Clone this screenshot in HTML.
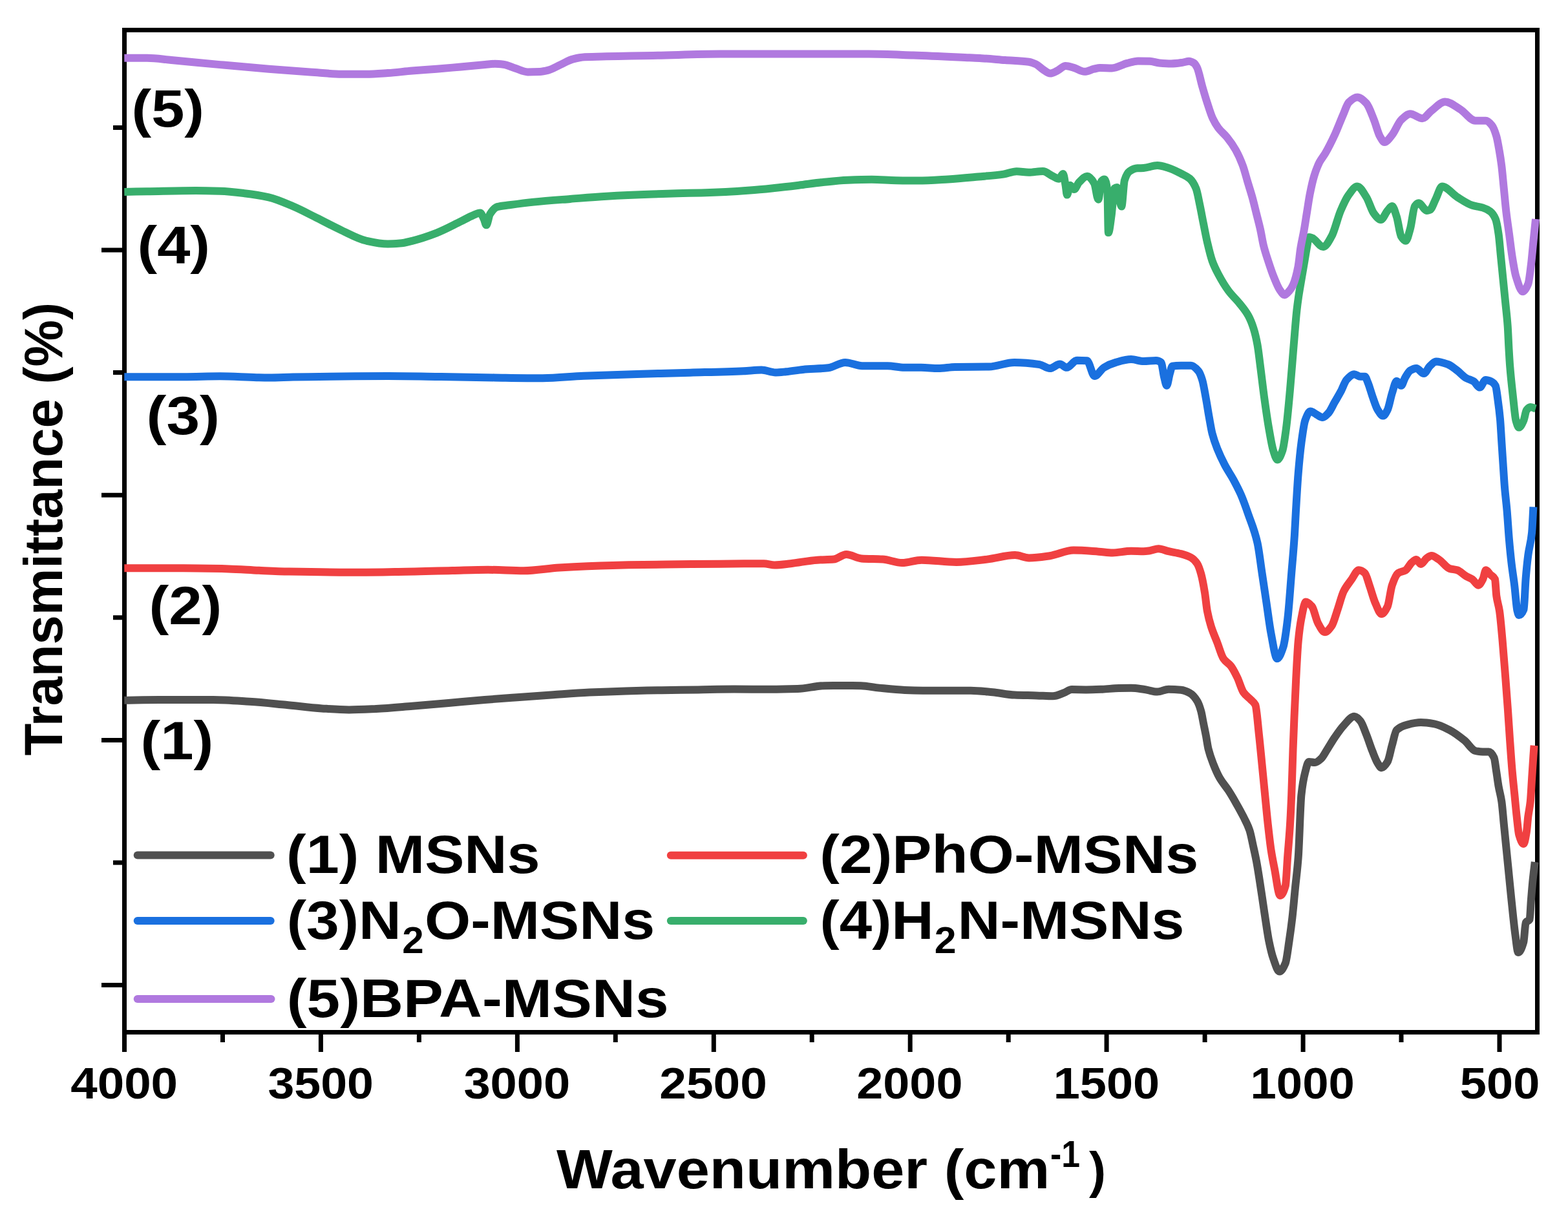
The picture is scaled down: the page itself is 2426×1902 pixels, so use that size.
<!DOCTYPE html><html><head><meta charset="utf-8"><title>FTIR spectra</title><style>html,body{margin:0;padding:0;background:#fff;overflow:hidden;width:2426px;height:1902px;}svg{display:block;}</style></head><body>
<svg width="2426" height="1902" viewBox="0 0 2426 1902">
<rect width="2426" height="1902" fill="#fff"/>
<g fill="none" stroke="#000" stroke-width="7" stroke-linecap="butt">
<rect x="192.5" y="46.5" width="2186" height="1551"/>
</g>
<path d="M192.5,1601V1628 M344.5,1601V1613 M496.4,1601V1628 M648.4,1601V1613 M800.4,1601V1628 M952.3,1601V1613 M1104.3,1601V1628 M1256.2,1601V1613 M1408.2,1601V1628 M1560.2,1601V1613 M1712.1,1601V1628 M1864.1,1601V1613 M2016.1,1601V1628 M2168.0,1601V1613 M2320.0,1601V1628 M189,197.5H175 M189,387.0H157 M189,576.6H175 M189,766.2H157 M189,955.8H175 M189,1145.4H157 M189,1335.0H175 M189,1524.6H157" stroke="#000" stroke-width="7" fill="none"/>
<g fill="none" stroke-width="12" stroke-linejoin="round" stroke-linecap="butt">
<path stroke="#505050" d="M192.3,1083.8 C210.20,1083.53 228.10,1083.00 246.0,1083.0 C274.00,1083.00 302.00,1083.00 330.0,1083.0 C348.67,1083.00 367.33,1084.60 386.0,1085.8 C404.67,1087.00 423.33,1089.04 442.0,1090.8 C460.67,1092.56 479.33,1095.22 498.0,1096.4 C512.00,1097.29 526.00,1098.40 540.0,1098.4 C553.97,1098.40 567.93,1097.63 581.9,1097.0 C600.57,1096.15 619.23,1094.29 637.9,1092.8 C656.57,1091.31 675.23,1089.63 693.9,1088.0 C712.57,1086.37 731.23,1084.53 749.9,1083.0 C766.60,1081.63 783.30,1080.43 800.0,1079.2 C818.67,1077.83 837.33,1076.46 856.0,1075.2 C874.67,1073.94 893.33,1072.51 912.0,1071.6 C930.67,1070.69 949.33,1069.92 968.0,1069.4 C986.67,1068.88 1005.33,1068.52 1024.0,1068.2 C1042.67,1067.88 1061.33,1067.67 1080.0,1067.4 C1098.67,1067.13 1117.33,1066.60 1136.0,1066.6 C1154.67,1066.60 1173.33,1066.80 1192.0,1066.8 C1206.00,1066.80 1220.00,1066.46 1234.0,1066.0 C1248.00,1065.54 1262.00,1061.38 1276.0,1061.2 C1285.33,1061.08 1294.67,1061.00 1304.0,1061.0 C1313.33,1061.00 1322.67,1061.07 1332.0,1061.2 C1341.33,1061.33 1350.67,1063.67 1360.0,1064.6 C1373.33,1065.92 1386.67,1067.50 1400.0,1067.9 C1416.97,1068.41 1433.93,1068.80 1450.9,1068.8 C1467.90,1068.80 1484.90,1068.80 1501.9,1068.8 C1513.20,1068.80 1524.50,1070.25 1535.8,1071.3 C1547.13,1072.36 1558.47,1075.15 1569.8,1075.6 C1581.13,1076.05 1592.47,1076.08 1603.8,1076.4 C1612.27,1076.64 1620.73,1077.30 1629.2,1077.3 C1634.87,1077.30 1640.53,1074.22 1646.2,1072.2 C1650.17,1070.79 1654.13,1067.10 1658.1,1067.1 C1665.47,1067.10 1672.83,1067.40 1680.2,1067.4 C1688.70,1067.40 1697.20,1067.03 1705.7,1066.7 C1714.17,1066.37 1722.63,1065.15 1731.1,1065.0 C1737.40,1064.89 1743.70,1064.80 1750.0,1064.8 C1756.43,1064.80 1762.87,1065.88 1769.3,1066.7 C1776.40,1067.60 1783.50,1070.60 1790.6,1070.6 C1796.40,1070.60 1802.20,1066.70 1808.0,1066.7 C1814.43,1066.70 1820.87,1067.09 1827.3,1067.7 C1831.80,1068.13 1836.30,1070.06 1840.8,1072.5 C1844.67,1074.60 1848.53,1078.85 1852.4,1085.1 C1854.33,1088.23 1856.27,1093.67 1858.2,1100.5 C1859.50,1105.09 1860.80,1113.45 1862.1,1119.9 C1863.40,1126.35 1864.70,1132.37 1866.0,1139.2 C1867.20,1145.50 1868.40,1154.43 1869.6,1159.3 C1872.17,1169.72 1874.73,1175.94 1877.3,1182.5 C1880.53,1190.76 1883.77,1198.14 1887.0,1203.8 C1891.50,1211.68 1896.00,1216.17 1900.5,1223.1 C1904.37,1229.06 1908.23,1235.65 1912.1,1242.4 C1915.97,1249.15 1919.83,1255.92 1923.7,1263.7 C1926.90,1270.14 1930.10,1275.29 1933.3,1284.9 C1935.23,1290.71 1937.17,1301.25 1939.1,1310.0 C1940.73,1317.40 1942.37,1324.53 1944.0,1333.2 C1945.60,1341.70 1947.20,1352.07 1948.8,1362.2 C1950.73,1374.44 1952.67,1388.02 1954.6,1400.9 C1956.53,1413.78 1958.47,1427.46 1960.4,1439.5 C1961.30,1445.10 1962.20,1451.07 1963.1,1455.5 C1965.43,1466.99 1967.77,1477.03 1970.1,1483.6 C1973.23,1492.42 1976.37,1503.50 1979.5,1503.5 C1982.60,1503.50 1985.70,1497.91 1988.8,1490.6 C1990.77,1485.96 1992.73,1468.58 1994.7,1455.5 C1996.27,1445.08 1997.83,1433.90 1999.4,1420.4 C2000.93,1407.19 2002.47,1389.03 2004.0,1373.6 C2005.57,1357.83 2007.13,1347.80 2008.7,1326.8 C2010.27,1305.80 2011.83,1245.16 2013.4,1230.4 C2015.37,1211.88 2017.33,1202.83 2019.3,1195.3 C2021.23,1187.90 2023.17,1178.90 2025.1,1178.9 C2028.23,1178.90 2031.37,1180.10 2034.5,1180.1 C2037.60,1180.10 2040.70,1177.03 2043.8,1174.3 C2046.93,1171.54 2050.07,1165.04 2053.2,1160.2 C2057.10,1154.17 2061.00,1147.19 2064.9,1141.5 C2069.57,1134.69 2074.23,1127.71 2078.9,1122.8 C2084.37,1117.05 2089.83,1108.70 2095.3,1108.7 C2098.43,1108.70 2101.57,1112.18 2104.7,1115.7 C2107.80,1119.18 2110.90,1129.10 2114.0,1136.8 C2117.13,1144.58 2120.27,1154.81 2123.4,1162.6 C2126.13,1169.39 2128.87,1177.11 2131.6,1181.3 C2133.57,1184.32 2135.53,1188.30 2137.5,1188.3 C2140.60,1188.30 2143.70,1183.95 2146.8,1178.9 C2149.13,1175.10 2151.47,1161.31 2153.8,1153.2 C2156.17,1144.98 2158.53,1132.08 2160.9,1129.8 C2166.37,1124.54 2171.83,1123.00 2177.3,1121.6 C2184.30,1119.81 2191.30,1118.10 2198.3,1118.1 C2205.33,1118.10 2212.37,1119.21 2219.4,1120.4 C2227.20,1121.72 2235.00,1125.82 2242.8,1129.8 C2250.60,1133.78 2258.40,1139.81 2266.2,1146.2 C2271.67,1150.68 2277.13,1160.79 2282.6,1162.0 C2286.40,1162.84 2290.20,1163.50 2294.0,1163.5 C2297.13,1163.50 2300.27,1163.50 2303.4,1163.5 C2306.13,1163.50 2308.87,1166.96 2311.6,1172.6 C2312.77,1175.01 2313.93,1186.22 2315.1,1193.6 C2316.27,1200.98 2317.43,1210.29 2318.6,1217.0 C2320.17,1226.01 2321.73,1229.80 2323.3,1240.4 C2324.47,1248.29 2325.63,1263.80 2326.8,1275.5 C2327.97,1287.20 2329.13,1298.90 2330.3,1310.6 C2331.47,1322.30 2332.63,1333.98 2333.8,1345.7 C2334.97,1357.42 2336.13,1369.35 2337.3,1380.9 C2338.50,1392.78 2339.70,1404.98 2340.9,1416.0 C2342.07,1426.72 2343.23,1438.05 2344.4,1446.4 C2345.93,1457.37 2347.47,1474.00 2349.0,1474.0 C2351.73,1474.00 2354.47,1467.57 2357.2,1458.1 C2358.37,1454.06 2359.53,1429.53 2360.7,1427.7 C2362.67,1424.61 2364.63,1426.40 2366.6,1423.0 C2367.37,1421.68 2368.13,1402.12 2368.9,1392.6 C2369.70,1382.66 2370.50,1372.57 2371.3,1364.5 C2372.47,1352.74 2373.63,1344.17 2374.8,1334.0"/>
<path stroke="#F04041" d="M192.3,879.3 C222.73,879.30 253.17,879.30 283.6,879.3 C307.00,879.30 330.40,879.82 353.8,880.4 C369.40,880.79 385.00,882.12 400.6,882.8 C416.23,883.49 431.87,884.28 447.5,884.6 C478.70,885.23 509.90,885.80 541.1,885.8 C564.50,885.80 587.90,885.42 611.3,885.1 C640.87,884.69 670.43,883.67 700.0,883.0 C718.37,882.58 736.73,881.80 755.1,881.8 C773.43,881.80 791.77,883.20 810.1,883.2 C828.47,883.20 846.83,879.58 865.2,878.5 C892.73,876.88 920.27,875.57 947.8,874.9 C975.33,874.23 1002.87,873.84 1030.4,873.5 C1057.93,873.16 1085.47,872.93 1113.0,872.7 C1135.97,872.51 1158.93,872.20 1181.9,872.2 C1187.40,872.20 1192.90,874.40 1198.4,874.4 C1206.67,874.40 1214.93,873.07 1223.2,872.2 C1236.97,870.76 1250.73,867.56 1264.5,866.7 C1273.00,866.17 1281.50,866.29 1290.0,865.6 C1296.47,865.08 1302.93,858.00 1309.4,858.0 C1317.30,858.00 1325.20,864.00 1333.1,864.5 C1343.90,865.18 1354.70,864.98 1365.5,865.6 C1375.57,866.18 1385.63,871.00 1395.7,871.0 C1405.77,871.00 1415.83,866.70 1425.9,866.7 C1443.87,866.70 1461.83,869.90 1479.8,869.9 C1495.63,869.90 1511.47,867.40 1527.3,865.6 C1541.67,863.97 1556.03,859.10 1570.4,859.1 C1577.60,859.10 1584.80,863.40 1592.0,863.4 C1602.77,863.40 1613.53,861.69 1624.3,860.2 C1636.53,858.51 1648.77,851.60 1661.0,851.6 C1673.93,851.60 1686.87,852.83 1699.8,853.7 C1707.00,854.18 1714.20,855.50 1721.4,855.5 C1730.93,855.50 1740.47,852.80 1750.0,852.8 C1756.43,852.80 1762.87,853.20 1769.3,853.2 C1772.53,853.20 1775.77,852.64 1779.0,852.2 C1783.50,851.58 1788.00,849.30 1792.5,849.3 C1797.67,849.30 1802.83,852.04 1808.0,853.2 C1814.43,854.65 1820.87,855.39 1827.3,857.1 C1832.47,858.47 1837.63,859.98 1842.8,862.9 C1846.00,864.71 1849.20,867.66 1852.4,872.5 C1854.33,875.42 1856.27,881.27 1858.2,888.0 C1860.13,894.73 1862.07,905.31 1864.0,917.0 C1865.30,924.86 1866.60,939.01 1867.9,945.9 C1869.83,956.14 1871.77,962.87 1873.7,969.1 C1876.90,979.42 1880.10,985.96 1883.3,994.3 C1886.53,1002.73 1889.77,1014.67 1893.0,1019.4 C1896.87,1025.05 1900.73,1025.99 1904.6,1031.0 C1907.83,1035.19 1911.07,1041.75 1914.3,1048.4 C1917.50,1054.98 1920.70,1066.92 1923.9,1071.5 C1927.77,1077.03 1931.63,1078.94 1935.5,1083.1 C1937.77,1085.54 1940.03,1086.22 1942.3,1090.9 C1944.17,1094.75 1946.03,1119.97 1947.9,1136.8 C1949.47,1150.93 1951.03,1167.83 1952.6,1183.6 C1954.13,1199.03 1955.67,1214.97 1957.2,1230.4 C1958.77,1246.17 1960.33,1263.10 1961.9,1277.2 C1963.43,1291.00 1964.97,1304.89 1966.5,1315.0 C1968.33,1327.09 1970.17,1335.63 1972.0,1345.0 C1974.87,1359.66 1977.73,1386.00 1980.6,1386.0 C1983.33,1386.00 1986.07,1380.75 1988.8,1370.9 C1989.97,1366.70 1991.13,1339.40 1992.3,1324.0 C1993.50,1308.16 1994.70,1296.55 1995.9,1277.2 C1996.67,1264.84 1997.43,1249.12 1998.2,1230.4 C1998.97,1211.68 1999.73,1181.27 2000.5,1160.2 C2001.17,1141.88 2001.83,1125.64 2002.5,1110.0 C2003.40,1088.88 2004.30,1068.06 2005.2,1050.9 C2006.37,1028.66 2007.53,1004.70 2008.7,992.4 C2010.27,975.89 2011.83,965.10 2013.4,957.2 C2015.73,945.44 2018.07,931.50 2020.4,931.5 C2023.53,931.50 2026.67,934.83 2029.8,938.5 C2032.93,942.17 2036.07,958.64 2039.2,964.3 C2042.70,970.62 2046.20,978.30 2049.7,978.3 C2053.20,978.30 2056.70,973.73 2060.2,969.0 C2063.33,964.76 2066.47,952.21 2069.6,943.2 C2072.70,934.28 2075.80,921.38 2078.9,915.1 C2082.80,907.19 2086.70,903.02 2090.6,897.6 C2094.53,892.14 2098.47,882.30 2102.4,882.3 C2105.50,882.30 2108.60,884.28 2111.7,887.0 C2114.03,889.05 2116.37,899.13 2118.7,905.7 C2121.83,914.52 2124.97,926.90 2128.1,933.8 C2131.23,940.70 2134.37,950.20 2137.5,950.2 C2140.60,950.20 2143.70,944.82 2146.8,938.5 C2149.13,933.74 2151.47,912.35 2153.8,905.7 C2156.93,896.77 2160.07,889.15 2163.2,887.0 C2167.10,884.33 2171.00,884.71 2174.9,882.3 C2178.03,880.36 2181.17,873.26 2184.3,870.6 C2186.63,868.62 2188.97,866.00 2191.3,866.0 C2193.63,866.00 2195.97,873.00 2198.3,873.0 C2201.43,873.00 2204.57,865.66 2207.7,863.6 C2210.03,862.07 2212.37,860.10 2214.7,860.1 C2218.60,860.10 2222.50,863.56 2226.4,866.0 C2231.87,869.42 2237.33,878.31 2242.8,880.0 C2246.70,881.20 2250.60,881.13 2254.5,882.3 C2259.17,883.70 2263.83,889.05 2268.5,891.7 C2271.63,893.48 2274.77,894.32 2277.9,896.4 C2281.03,898.48 2284.17,905.70 2287.3,905.7 C2289.63,905.70 2291.97,900.81 2294.3,896.4 C2295.87,893.44 2297.43,882.30 2299.0,882.3 C2301.33,882.30 2303.67,887.05 2306.0,889.4 C2308.33,891.75 2310.67,891.41 2313.0,896.4 C2313.77,898.04 2314.53,916.58 2315.3,922.1 C2316.87,933.39 2318.43,935.09 2320.0,945.5 C2321.57,955.91 2323.13,975.05 2324.7,992.4 C2326.27,1009.75 2327.83,1030.67 2329.4,1050.9 C2330.57,1065.97 2331.73,1081.26 2332.9,1097.7 C2334.00,1113.20 2335.10,1131.30 2336.2,1146.8 C2337.37,1163.24 2338.53,1180.23 2339.7,1193.6 C2340.87,1206.97 2342.03,1217.00 2343.2,1228.7 C2344.37,1240.40 2345.53,1253.40 2346.7,1263.8 C2347.87,1274.20 2349.03,1287.87 2350.2,1291.9 C2352.53,1299.95 2354.87,1306.00 2357.2,1306.0 C2358.77,1306.00 2360.33,1296.51 2361.9,1287.2 C2362.70,1282.45 2363.50,1270.22 2364.3,1263.8 C2365.47,1254.44 2366.63,1251.55 2367.8,1240.4 C2368.57,1233.07 2369.33,1217.00 2370.1,1205.3 C2370.87,1193.60 2371.63,1181.19 2372.4,1170.2 C2372.80,1164.47 2373.20,1159.27 2373.6,1153.8"/>
<path stroke="#1A70DF" d="M192.3,583.2 C222.87,583.20 253.43,583.20 284.0,583.2 C302.83,583.20 321.67,582.30 340.5,582.3 C359.33,582.30 378.17,583.82 397.0,584.2 C403.27,584.33 409.53,584.50 415.8,584.5 C428.33,584.50 440.87,583.84 453.4,583.6 C472.23,583.23 491.07,582.90 509.9,582.7 C539.93,582.38 569.97,582.00 600.0,582.0 C627.53,582.00 655.07,582.61 682.6,583.0 C710.13,583.39 737.67,584.04 765.2,584.4 C790.00,584.73 814.80,585.20 839.6,585.2 C860.70,585.20 881.80,582.60 902.9,581.7 C930.43,580.53 957.97,579.72 985.5,578.9 C1013.03,578.08 1040.57,577.48 1068.1,576.7 C1095.63,575.92 1123.17,575.36 1150.7,574.2 C1159.87,573.81 1169.03,572.60 1178.2,572.6 C1185.47,572.60 1192.73,576.50 1200.0,576.5 C1205.40,576.50 1210.80,575.80 1216.2,575.3 C1224.90,574.50 1233.60,572.68 1242.3,571.9 C1255.40,570.72 1268.50,570.80 1281.6,569.3 C1290.30,568.30 1299.00,560.90 1307.7,560.9 C1316.43,560.90 1325.17,566.20 1333.9,566.2 C1346.97,566.20 1360.03,566.20 1373.1,566.2 C1381.83,566.20 1390.57,568.80 1399.3,568.8 C1408.00,568.80 1416.70,568.80 1425.4,568.8 C1434.13,568.80 1442.87,570.10 1451.6,570.1 C1460.30,570.10 1469.00,568.16 1477.7,568.0 C1495.17,567.67 1512.63,567.83 1530.1,567.5 C1543.17,567.25 1556.23,560.90 1569.3,560.9 C1582.37,560.90 1595.43,562.16 1608.5,564.1 C1613.73,564.88 1618.97,570.10 1624.2,570.1 C1629.47,570.10 1634.73,563.50 1640.0,563.5 C1643.47,563.50 1646.93,568.80 1650.4,568.8 C1655.63,568.80 1660.87,557.80 1666.1,557.8 C1671.33,557.80 1676.57,557.96 1681.8,558.3 C1685.70,558.56 1689.60,581.90 1693.5,581.9 C1698.33,581.90 1703.17,571.66 1708.0,568.8 C1714.10,565.19 1720.20,562.61 1726.3,560.9 C1734.20,558.69 1742.10,556.10 1750.0,556.1 C1756.43,556.10 1762.87,559.00 1769.3,559.0 C1775.73,559.00 1782.17,558.00 1788.6,558.0 C1791.20,558.00 1793.80,558.97 1796.4,560.9 C1798.00,562.09 1799.60,577.95 1801.2,584.1 C1802.50,589.10 1803.80,596.70 1805.1,596.7 C1806.70,596.70 1808.30,583.64 1809.9,578.3 C1811.20,573.96 1812.50,566.93 1813.8,566.7 C1818.30,565.91 1822.80,565.70 1827.3,565.7 C1832.47,565.70 1837.63,565.70 1842.8,565.7 C1846.63,565.70 1850.47,569.75 1854.3,574.4 C1856.23,576.74 1858.17,581.83 1860.1,588.0 C1862.03,594.17 1863.97,606.51 1865.9,617.0 C1867.53,625.86 1869.17,636.83 1870.8,645.9 C1872.40,654.79 1874.00,664.84 1875.6,671.1 C1878.17,681.14 1880.73,687.76 1883.3,694.3 C1887.17,704.15 1891.03,712.00 1894.9,719.4 C1899.43,728.08 1903.97,734.22 1908.5,742.6 C1912.33,749.69 1916.17,756.91 1920.0,765.7 C1923.87,774.57 1927.73,785.58 1931.6,796.7 C1936.23,810.03 1940.87,819.75 1945.5,840.2 C1947.87,850.65 1950.23,871.29 1952.6,887.0 C1954.93,902.49 1957.27,918.20 1959.6,933.8 C1961.93,949.40 1964.27,968.57 1966.6,980.6 C1969.73,996.75 1972.87,1019.30 1976.0,1019.3 C1979.10,1019.30 1982.20,1010.98 1985.3,1001.7 C1987.63,994.72 1989.97,976.70 1992.3,957.2 C1994.27,940.76 1996.23,910.95 1998.2,887.0 C1999.77,867.92 2001.33,852.31 2002.9,828.5 C2003.60,817.86 2004.30,801.85 2005.0,790.0 C2006.23,769.11 2007.47,747.69 2008.7,732.6 C2010.27,713.43 2011.83,697.60 2013.4,685.8 C2015.37,670.99 2017.33,655.98 2019.3,650.6 C2022.03,643.12 2024.77,636.60 2027.5,636.6 C2030.60,636.60 2033.70,639.74 2036.8,641.3 C2039.93,642.88 2043.07,646.00 2046.2,646.0 C2049.30,646.00 2052.40,642.26 2055.5,639.0 C2058.63,635.71 2061.77,628.07 2064.9,622.6 C2068.03,617.13 2071.17,612.05 2074.3,606.2 C2077.40,600.41 2080.50,590.78 2083.6,587.5 C2087.50,583.37 2091.40,579.30 2095.3,579.3 C2098.43,579.30 2101.57,582.80 2104.7,582.8 C2107.03,582.80 2109.37,582.80 2111.7,582.8 C2113.27,582.80 2114.83,588.41 2116.4,592.1 C2118.73,597.60 2121.07,606.71 2123.4,613.2 C2126.13,620.80 2128.87,630.00 2131.6,634.3 C2134.33,638.60 2137.07,643.60 2139.8,643.6 C2142.13,643.60 2144.47,638.86 2146.8,634.3 C2149.13,629.74 2151.47,615.67 2153.8,608.5 C2156.17,601.23 2158.53,589.80 2160.9,589.8 C2163.23,589.80 2165.57,596.80 2167.9,596.8 C2169.83,596.80 2171.77,588.36 2173.7,585.1 C2176.43,580.49 2179.17,575.04 2181.9,573.4 C2185.03,571.52 2188.17,569.90 2191.3,569.9 C2195.20,569.90 2199.10,578.10 2203.0,578.1 C2206.13,578.10 2209.27,569.34 2212.4,566.4 C2215.50,563.49 2218.60,559.40 2221.7,559.4 C2227.93,559.40 2234.17,561.71 2240.4,564.0 C2245.10,565.73 2249.80,569.91 2254.5,573.4 C2259.17,576.86 2263.83,582.42 2268.5,585.1 C2272.33,587.30 2276.17,587.81 2280.0,590.2 C2283.13,592.15 2286.27,599.60 2289.4,599.6 C2292.50,599.60 2295.60,587.90 2298.7,587.9 C2301.43,587.90 2304.17,588.98 2306.9,590.2 C2309.23,591.24 2311.57,592.85 2313.9,597.2 C2315.07,599.37 2316.23,610.10 2317.4,618.3 C2318.60,626.74 2319.80,635.37 2321.0,648.7 C2321.77,657.22 2322.53,672.10 2323.3,683.8 C2324.07,695.50 2324.83,707.45 2325.6,718.9 C2326.40,730.85 2327.20,744.35 2328.0,754.0 C2329.17,768.07 2330.33,775.81 2331.5,789.2 C2332.67,802.59 2333.83,822.63 2335.0,836.0 C2336.17,849.37 2337.33,861.04 2338.5,871.1 C2340.07,884.61 2341.63,893.38 2343.2,906.2 C2344.63,917.93 2346.07,939.15 2347.5,945.0 C2348.33,948.40 2349.17,952.00 2350.0,952.0 C2352.50,952.00 2355.00,949.35 2357.5,943.2 C2358.57,940.57 2359.63,907.23 2360.7,894.5 C2361.90,880.18 2363.10,868.53 2364.3,859.4 C2366.23,844.69 2368.17,842.93 2370.1,824.3 C2370.87,816.91 2371.63,797.77 2372.4,784.5"/>
<path stroke="#38AE6C" d="M192.3,296.9 C204.07,296.70 215.83,296.50 227.6,296.3 C252.70,295.87 277.80,295.00 302.9,295.0 C315.43,295.00 327.97,295.37 340.5,295.8 C353.07,296.23 365.63,297.73 378.2,299.2 C390.73,300.66 403.27,302.54 415.8,305.4 C428.33,308.26 440.87,314.02 453.4,319.3 C465.93,324.58 478.47,331.49 491.0,337.7 C503.57,343.92 516.13,350.84 528.7,356.6 C541.23,362.35 553.77,369.77 566.3,372.5 C577.53,374.95 588.77,377.50 600.0,377.5 C606.27,377.50 612.53,377.09 618.8,376.6 C625.07,376.11 631.33,374.32 637.6,372.8 C650.17,369.75 662.73,365.44 675.3,360.6 C687.83,355.77 700.37,348.83 712.9,342.7 C719.17,339.64 725.43,335.78 731.7,333.3 C735.47,331.81 739.23,329.50 743.0,329.5 C744.87,329.50 746.73,335.12 748.6,338.9 C749.87,341.46 751.13,348.30 752.4,348.3 C754.30,348.30 756.20,334.42 758.1,331.4 C761.83,325.46 765.57,321.13 769.3,320.1 C775.60,318.36 781.90,318.16 788.2,317.3 C800.73,315.58 813.27,313.87 825.8,312.6 C844.60,310.69 863.40,309.38 882.2,307.9 C901.03,306.42 919.87,304.76 938.7,303.7 C962.47,302.36 986.23,301.37 1010.0,300.5 C1022.53,300.04 1035.07,299.64 1047.6,299.3 C1060.17,298.96 1072.73,298.77 1085.3,298.4 C1097.83,298.04 1110.37,297.59 1122.9,297.0 C1135.43,296.41 1147.97,295.56 1160.5,294.6 C1173.07,293.64 1185.63,292.31 1198.2,291.0 C1210.73,289.70 1223.27,288.20 1235.8,286.7 C1248.33,285.20 1260.87,283.27 1273.4,282.0 C1285.97,280.73 1298.53,279.31 1311.1,278.8 C1323.63,278.29 1336.17,277.80 1348.7,277.8 C1361.23,277.80 1373.77,278.98 1386.3,279.2 C1397.53,279.40 1408.77,279.60 1420.0,279.6 C1435.60,279.60 1451.20,278.34 1466.8,277.4 C1482.40,276.46 1498.00,274.92 1513.6,273.5 C1526.60,272.31 1539.60,271.44 1552.6,269.6 C1559.37,268.64 1566.13,265.30 1572.9,265.3 C1579.13,265.30 1585.37,266.80 1591.6,266.8 C1598.90,266.80 1606.20,265.00 1613.5,265.0 C1618.70,265.00 1623.90,270.45 1629.1,272.8 C1632.20,274.20 1635.30,276.70 1638.4,276.7 C1640.50,276.70 1642.60,268.90 1644.7,268.9 C1646.00,268.90 1647.30,279.73 1648.6,286.8 C1649.37,290.97 1650.13,301.60 1650.9,301.6 C1652.47,301.60 1654.03,286.80 1655.6,286.8 C1657.67,286.80 1659.73,293.00 1661.8,293.0 C1664.40,293.00 1667.00,284.69 1669.6,282.1 C1673.77,277.96 1677.93,272.80 1682.1,272.8 C1685.73,272.80 1689.37,277.57 1693.0,283.7 C1695.10,287.24 1697.20,308.70 1699.3,308.7 C1700.87,308.70 1702.43,282.52 1704.0,280.6 C1705.57,278.68 1707.13,277.40 1708.7,277.4 C1710.23,277.40 1711.77,282.46 1713.3,294.6 C1713.83,298.82 1714.37,360.10 1714.9,360.1 C1716.47,360.10 1718.03,344.44 1719.6,333.6 C1721.17,322.76 1722.73,292.70 1724.3,291.5 C1725.60,290.51 1726.90,289.90 1728.2,289.9 C1730.53,289.90 1732.87,319.60 1735.2,319.6 C1736.77,319.60 1738.33,283.92 1739.9,279.0 C1742.50,270.83 1745.10,266.72 1747.7,265.0 C1751.80,262.29 1755.90,260.53 1760.0,260.3 C1763.10,260.12 1766.20,260.16 1769.3,260.0 C1776.40,259.64 1783.50,256.10 1790.6,256.1 C1796.40,256.10 1802.20,258.28 1808.0,260.0 C1814.43,261.91 1820.87,265.34 1827.3,268.6 C1831.80,270.88 1836.30,272.49 1840.8,276.4 C1844.03,279.21 1847.27,283.98 1850.5,291.8 C1852.43,296.48 1854.37,307.94 1856.3,317.0 C1858.20,325.91 1860.10,336.52 1862.0,346.0 C1863.97,355.82 1865.93,366.48 1867.9,374.9 C1870.47,385.89 1873.03,396.75 1875.6,403.9 C1878.83,412.91 1882.07,418.92 1885.3,425.0 C1890.43,434.65 1895.57,443.07 1900.7,450.0 C1906.50,457.83 1912.30,462.65 1918.1,470.0 C1922.60,475.70 1927.10,480.68 1931.6,488.9 C1934.20,493.65 1936.80,499.87 1939.4,508.0 C1941.43,514.36 1943.47,522.54 1945.5,533.6 C1947.07,542.12 1948.63,556.66 1950.2,568.7 C1952.17,583.81 1954.13,601.18 1956.1,615.5 C1958.43,632.49 1960.77,649.02 1963.1,662.4 C1965.43,675.78 1967.77,690.36 1970.1,697.5 C1972.20,703.92 1974.30,711.50 1976.4,711.5 C1979.00,711.50 1981.60,704.90 1984.2,697.5 C1986.13,692.00 1988.07,676.93 1990.0,662.4 C1991.97,647.62 1993.93,625.26 1995.9,603.8 C1997.83,582.70 1999.77,556.28 2001.7,533.6 C2003.27,515.22 2004.83,494.13 2006.4,480.0 C2007.27,472.18 2008.13,465.94 2009.0,460.0 C2010.27,451.31 2011.53,444.38 2012.8,436.8 C2014.67,425.63 2016.53,414.93 2018.4,404.0 C2019.77,396.00 2021.13,387.33 2022.5,380.0 C2023.37,375.35 2024.23,367.00 2025.1,367.0 C2026.67,367.00 2028.23,367.59 2029.8,368.1 C2035.67,370.02 2041.53,382.10 2047.4,382.1 C2051.67,382.10 2055.93,373.24 2060.2,365.8 C2064.90,357.60 2069.60,336.95 2074.3,326.0 C2078.20,316.92 2082.10,307.88 2086.0,302.6 C2090.67,296.29 2095.33,288.50 2100.0,288.5 C2104.67,288.50 2109.33,297.73 2114.0,304.9 C2117.93,310.94 2121.87,325.65 2125.8,330.6 C2129.30,335.01 2132.80,340.00 2136.3,340.0 C2139.80,340.00 2143.30,329.96 2146.8,326.0 C2149.13,323.36 2151.47,319.00 2153.8,319.0 C2156.17,319.00 2158.53,328.18 2160.9,335.3 C2163.23,342.32 2165.57,362.00 2167.9,365.8 C2170.23,369.60 2172.57,372.80 2174.9,372.8 C2177.23,372.80 2179.57,362.11 2181.9,354.0 C2184.27,345.78 2186.63,322.22 2189.0,319.0 C2190.93,316.37 2192.87,314.30 2194.8,314.3 C2199.10,314.30 2203.40,326.00 2207.7,326.0 C2209.27,326.00 2210.83,325.45 2212.4,324.8 C2215.50,323.51 2218.60,313.21 2221.7,307.2 C2224.83,301.12 2227.97,288.50 2231.1,288.5 C2238.90,288.50 2246.70,300.09 2254.5,304.9 C2262.30,309.71 2270.10,315.38 2277.9,317.8 C2283.27,319.46 2288.63,319.71 2294.0,321.4 C2297.90,322.63 2301.80,324.24 2305.7,327.2 C2308.43,329.27 2311.17,332.58 2313.9,339.0 C2315.47,342.68 2317.03,351.73 2318.6,362.3 C2319.77,370.17 2320.93,385.68 2322.1,397.4 C2323.27,409.12 2324.43,420.88 2325.6,432.6 C2326.77,444.32 2327.93,455.81 2329.1,467.7 C2330.30,479.93 2331.50,488.21 2332.7,505.0 C2333.30,513.40 2333.90,529.56 2334.5,540.0 C2335.07,549.86 2335.63,559.63 2336.2,566.8 C2337.77,586.62 2339.33,599.56 2340.9,613.6 C2342.43,627.34 2343.97,645.71 2345.5,651.1 C2347.07,656.61 2348.63,661.60 2350.2,661.6 C2352.53,661.60 2354.87,656.13 2357.2,651.1 C2358.77,647.72 2360.33,636.78 2361.9,634.7 C2363.87,632.09 2365.83,630.00 2367.8,630.0 C2370.53,630.00 2373.27,631.53 2376.0,632.3"/>
<path stroke="#B079DF" d="M192.3,89.8 C204.07,89.80 215.83,89.80 227.6,89.8 C240.17,89.80 252.73,91.88 265.3,93.0 C290.37,95.23 315.43,97.82 340.5,100.1 C365.60,102.38 390.70,104.68 415.8,106.7 C440.87,108.72 465.93,110.55 491.0,112.3 C503.57,113.18 516.13,114.80 528.7,114.8 C541.23,114.80 553.77,114.80 566.3,114.8 C577.53,114.80 588.77,113.84 600.0,113.1 C612.53,112.28 625.07,110.55 637.6,109.5 C650.17,108.45 662.73,107.70 675.3,106.7 C687.83,105.71 700.37,104.60 712.9,103.5 C725.43,102.40 737.97,101.20 750.5,100.1 C755.53,99.66 760.57,98.80 765.6,98.8 C770.00,98.80 774.40,99.22 778.8,99.7 C785.07,100.38 791.33,103.85 797.6,105.8 C803.87,107.75 810.13,111.40 816.4,111.4 C822.67,111.40 828.93,111.25 835.2,111.0 C839.60,110.82 844.00,109.71 848.4,108.6 C854.67,107.01 860.93,102.93 867.2,100.1 C873.47,97.27 879.73,93.18 886.0,91.6 C892.27,90.02 898.53,88.64 904.8,88.3 C916.10,87.69 927.40,87.56 938.7,87.3 C951.23,87.01 963.77,86.83 976.3,86.6 C987.53,86.40 998.77,86.22 1010.0,86.0 C1044.90,85.32 1079.80,83.60 1114.7,83.6 C1152.97,83.60 1191.23,83.60 1229.5,83.6 C1267.67,83.60 1305.83,83.60 1344.0,83.6 C1367.00,83.60 1390.00,84.73 1413.0,85.5 C1442.00,86.47 1471.00,87.95 1500.0,89.3 C1506.13,89.59 1512.27,89.84 1518.4,90.2 C1530.60,90.91 1542.80,92.09 1555.0,93.0 C1567.27,93.92 1579.53,94.03 1591.8,95.7 C1595.47,96.20 1599.13,97.70 1602.8,99.4 C1606.47,101.10 1610.13,105.31 1613.8,107.6 C1617.47,109.89 1621.13,113.50 1624.8,113.5 C1628.47,113.50 1632.13,111.12 1635.8,109.5 C1640.10,107.60 1644.40,102.10 1648.7,102.1 C1652.97,102.10 1657.23,103.75 1661.5,104.9 C1667.00,106.38 1672.50,110.80 1678.0,110.8 C1682.90,110.80 1687.80,107.80 1692.7,106.7 C1695.80,106.00 1698.90,104.90 1702.0,104.9 C1708.10,104.90 1714.20,105.40 1720.3,105.4 C1728.20,105.40 1736.10,99.87 1744.0,97.9 C1749.57,96.51 1755.13,94.40 1760.7,94.4 C1766.80,94.40 1772.90,94.55 1779.0,94.8 C1783.90,95.00 1788.80,97.08 1793.7,97.5 C1799.80,98.02 1805.90,98.50 1812.0,98.5 C1818.13,98.50 1824.27,97.46 1830.4,96.6 C1833.47,96.17 1836.53,94.80 1839.6,94.8 C1842.07,94.80 1844.53,96.03 1847.0,97.5 C1848.67,98.50 1850.33,101.13 1852.0,104.3 C1854.73,109.51 1857.47,124.36 1860.2,133.8 C1862.67,142.32 1865.13,150.80 1867.6,158.4 C1870.47,167.23 1873.33,176.87 1876.2,183.0 C1879.07,189.13 1881.93,193.82 1884.8,197.7 C1889.33,203.83 1893.87,206.86 1898.4,212.5 C1902.90,218.10 1907.40,224.15 1911.9,232.1 C1915.60,238.64 1919.30,246.66 1923.0,256.7 C1925.43,263.30 1927.87,273.16 1930.3,281.3 C1932.77,289.56 1935.23,296.95 1937.7,305.9 C1939.77,313.40 1941.83,322.23 1943.9,330.5 C1945.93,338.63 1947.97,345.97 1950.0,355.1 C1951.63,362.43 1953.27,373.08 1954.9,379.7 C1957.37,389.70 1959.83,396.72 1962.3,404.3 C1965.17,413.11 1968.03,421.74 1970.9,428.8 C1973.93,436.27 1976.97,444.21 1980.0,448.5 C1982.47,451.99 1984.93,456.40 1987.4,456.4 C1989.93,456.40 1992.47,452.86 1995.0,450.0 C1996.90,447.86 1998.80,444.89 2000.7,440.7 C2003.30,434.97 2005.90,425.87 2008.5,412.6 C2009.73,406.31 2010.97,392.21 2012.2,384.5 C2014.00,373.25 2015.80,366.65 2017.6,356.4 C2019.10,347.86 2020.60,337.56 2022.1,328.3 C2023.63,318.83 2025.17,307.98 2026.7,300.2 C2028.90,289.04 2031.10,279.20 2033.3,272.1 C2036.03,263.28 2038.77,256.40 2041.5,251.1 C2044.53,245.22 2047.57,242.21 2050.6,237.0 C2055.60,228.42 2060.60,218.34 2065.6,207.5 C2069.70,198.61 2073.80,187.34 2077.9,178.0 C2080.90,171.17 2083.90,161.34 2086.9,158.4 C2091.27,154.13 2095.63,150.50 2100.0,150.5 C2104.67,150.50 2109.33,154.98 2114.0,159.8 C2117.93,163.87 2121.87,175.86 2125.8,185.5 C2128.90,193.10 2132.00,206.07 2135.1,211.3 C2137.43,215.23 2139.77,220.00 2142.1,220.0 C2146.00,220.00 2149.90,213.57 2153.8,208.9 C2158.50,203.27 2163.20,189.96 2167.9,185.5 C2172.57,181.07 2177.23,176.20 2181.9,176.2 C2188.17,176.20 2194.43,183.20 2200.7,183.2 C2205.37,183.20 2210.03,174.99 2214.7,171.5 C2221.73,166.24 2228.77,157.40 2235.8,157.4 C2243.60,157.40 2251.40,164.50 2259.2,169.2 C2267.00,173.90 2274.80,186.61 2282.6,186.7 C2287.97,186.76 2293.33,186.73 2298.7,186.8 C2301.83,186.84 2304.97,190.17 2308.1,193.8 C2310.43,196.51 2312.77,202.59 2315.1,210.2 C2316.67,215.31 2318.23,224.59 2319.8,233.6 C2320.97,240.31 2322.13,247.64 2323.3,257.0 C2324.47,266.36 2325.63,280.40 2326.8,292.1 C2327.97,303.80 2329.13,317.14 2330.3,327.2 C2331.87,340.71 2333.43,350.60 2335.0,362.3 C2336.57,374.00 2338.13,387.67 2339.7,397.4 C2341.63,409.40 2343.57,421.64 2345.5,427.9 C2349.03,439.34 2352.57,451.30 2356.1,451.3 C2358.83,451.30 2361.57,446.43 2364.3,439.6 C2365.83,435.77 2367.37,421.55 2368.9,409.2 C2370.07,399.81 2371.23,385.54 2372.4,374.0 C2373.60,362.13 2374.80,350.67 2376.0,339.0"/>
</g>
<g fill="none" stroke-width="12" stroke-linecap="round">
<path stroke="#505050" d="M212.7,1323.6H418.7"/>
<path stroke="#F04041" d="M1037.8,1323.7H1242.9"/>
<path stroke="#1A70DF" d="M212.7,1425H418.7"/>
<path stroke="#38AE6C" d="M1037.8,1425H1242.9"/>
<path stroke="#B079DF" d="M212.7,1546H419.5"/>
</g>
<g font-family="'Liberation Sans', Arial, sans-serif" font-weight="bold" fill="#000">
<text transform="translate(109.20,1699.82) scale(1.1007,1)" font-size="67.75">4000</text>
<text transform="translate(414.53,1699.82) scale(1.0842,1)" font-size="67.75">3500</text>
<text transform="translate(717.41,1699.82) scale(1.0938,1)" font-size="67.75">3000</text>
<text transform="translate(1020.29,1699.82) scale(1.1048,1)" font-size="67.75">2500</text>
<text transform="translate(1325.32,1699.82) scale(1.0890,1)" font-size="67.75">2000</text>
<text transform="translate(1629.63,1699.82) scale(1.0917,1)" font-size="67.75">1500</text>
<text transform="translate(1934.52,1699.82) scale(1.0708,1)" font-size="67.75">1000</text>
<text transform="translate(2258.81,1699.82) scale(1.0926,1)" font-size="67.75">500</text>
<text transform="translate(203.53,195.88) scale(1.1183,1)" font-size="82.29">(5)</text>
<text transform="translate(212.54,406.90) scale(1.1161,1)" font-size="82.46">(4)</text>
<text transform="translate(226.53,672.17) scale(1.1183,1)" font-size="82.96">(3)</text>
<text transform="translate(230.42,965.80) scale(1.1194,1)" font-size="82.57">(2)</text>
<text transform="translate(217.48,1174.80) scale(1.1053,1)" font-size="83.48">(1)</text>
<text transform="translate(443.12,1350.90) scale(1.0954,1)" font-size="83.77">(1) MSNs</text>
<text transform="translate(1268.23,1350.90) scale(1.0915,1)" font-size="84.06">(2)PhO-MSNs</text>
<text transform="translate(443.76,1452.70) scale(1.0838,1)" font-size="84.06">(3)N</text>
<text transform="translate(622.17,1474.70) scale(1.0630,1)" font-size="56.57">2</text>
<text transform="translate(657.03,1452.70) scale(1.0897,1)" font-size="84.06">O-MSNs</text>
<text transform="translate(1268.59,1452.70) scale(1.0779,1)" font-size="84.06">(4)H</text>
<text transform="translate(1445.85,1474.70) scale(1.0741,1)" font-size="56.57">2</text>
<text transform="translate(1481.46,1452.70) scale(1.0895,1)" font-size="84.06">N-MSNs</text>
<text transform="translate(443.69,1573.90) scale(1.1034,1)" font-size="84.06">(5)BPA-MSNs</text>
<text transform="translate(861.00,1839.40) scale(1.0831,1)" font-size="84.93">Wavenumber (cm</text>
<text transform="translate(1625.11,1805.80) scale(0.8958,1)" font-size="57.83">-1</text>
<text transform="translate(1684.90,1838.18) scale(1.0045,1)" font-size="78.19">)</text>
<text transform="translate(96.10,1169.57) rotate(-90) scale(0.9693,1)" font-size="84.06">Transmittance (%)</text>
</g>
</svg></body></html>
